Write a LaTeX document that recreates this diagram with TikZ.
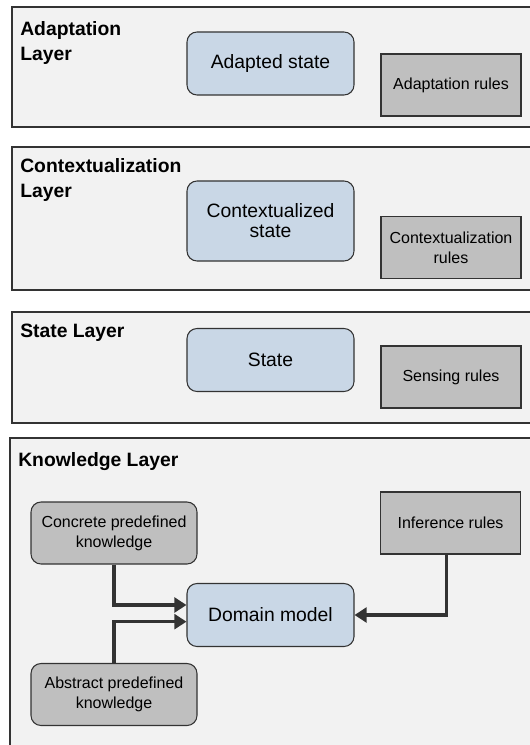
\documentclass[tikz,border=0pt]{standalone}
\usepackage{fontspec}
\setmainfont{Liberation Sans}
\usetikzlibrary{arrows.meta,positioning}
\definecolor{layerbg}{HTML}{F2F2F2}
\definecolor{statefill}{HTML}{C9D7E6}
\definecolor{rulefill}{HTML}{BFBFBF}
\definecolor{edgecol}{HTML}{333333}
\tikzset{
  layer/.style={draw=edgecol,line width=1.1pt,fill=layerbg},
  layertitle/.style={anchor=north west,inner sep=0pt,align=left,font=\fontsize{14.5}{18.75}\selectfont\bfseries},
  statebox/.style={draw=edgecol,line width=0.8pt,fill=statefill,rounded corners=7.5pt,
    minimum width=125.25pt,minimum height=47.25pt,align=center,font=\fontsize{14.5}{15}\selectfont},
  rulebox/.style={draw=edgecol,line width=0.8pt,fill=rulefill,minimum width=105pt,
    minimum height=46.5pt,align=center,font=\fontsize{12}{15}\selectfont},
  knowbox/.style={rulebox,rounded corners=7.5pt,minimum width=124.5pt},
  flow/.style={draw=edgecol,line width=2.3pt,-{Triangle[length=9pt,width=11pt]}}
}
\begin{document}
\begin{tikzpicture}[x=0.75pt,y=-0.75pt]
\useasboundingbox (0,0) rectangle (530,745);
\clip (0,0) rectangle (530,745);

% layers
\draw[layer] (12,7) rectangle (545,127);
\draw[layer] (12,147) rectangle (545,290);
\draw[layer] (12,312) rectangle (545,423);
\draw[layer] (10,438) rectangle (545,760);

\node[layertitle] (adaptT) at (20,21) {Adaptation\\Layer};
\node[layertitle] (ctxT)   at (20,158) {Contextualization\\Layer};
\node[layertitle] (stateT) at (20,324) {State Layer};
\node[layertitle] (knowT)  at (18,452) {Knowledge Layer};

% adaptation
\node[statebox] (adapted) at (270.5,63.5) {Adapted state};
\node[rulebox] (adaptR) at (451,85) {Adaptation rules};

% contextualization
\node[statebox,minimum height=60pt] (ctx) at (270.5,221) {Contextualized\\state};
\node[rulebox] (ctxR) at (451,247.5) {Contextualization\\rules};

% state
\node[statebox] (state) at (270.5,360) {State};
\node[rulebox] (sense) at (451,377) {Sensing rules};

% knowledge
\node[knowbox] (concrete) at (114,533) {Concrete predefined\\knowledge};
\node[rulebox] (infer) at (450.5,523) {Inference rules};
\node[statebox] (domain) at (270.5,615) {Domain model};
\node[knowbox] (abstract) at (114,694.5) {Abstract predefined\\knowledge};

\draw[flow] (concrete.south) |- ([yshift=7.5pt]domain.west);
\draw[flow] (abstract.north) |- ([yshift=-5pt]domain.west);
\draw[flow] ([xshift=-3pt]infer.south) |- (domain.east);
\end{tikzpicture}
\end{document}
